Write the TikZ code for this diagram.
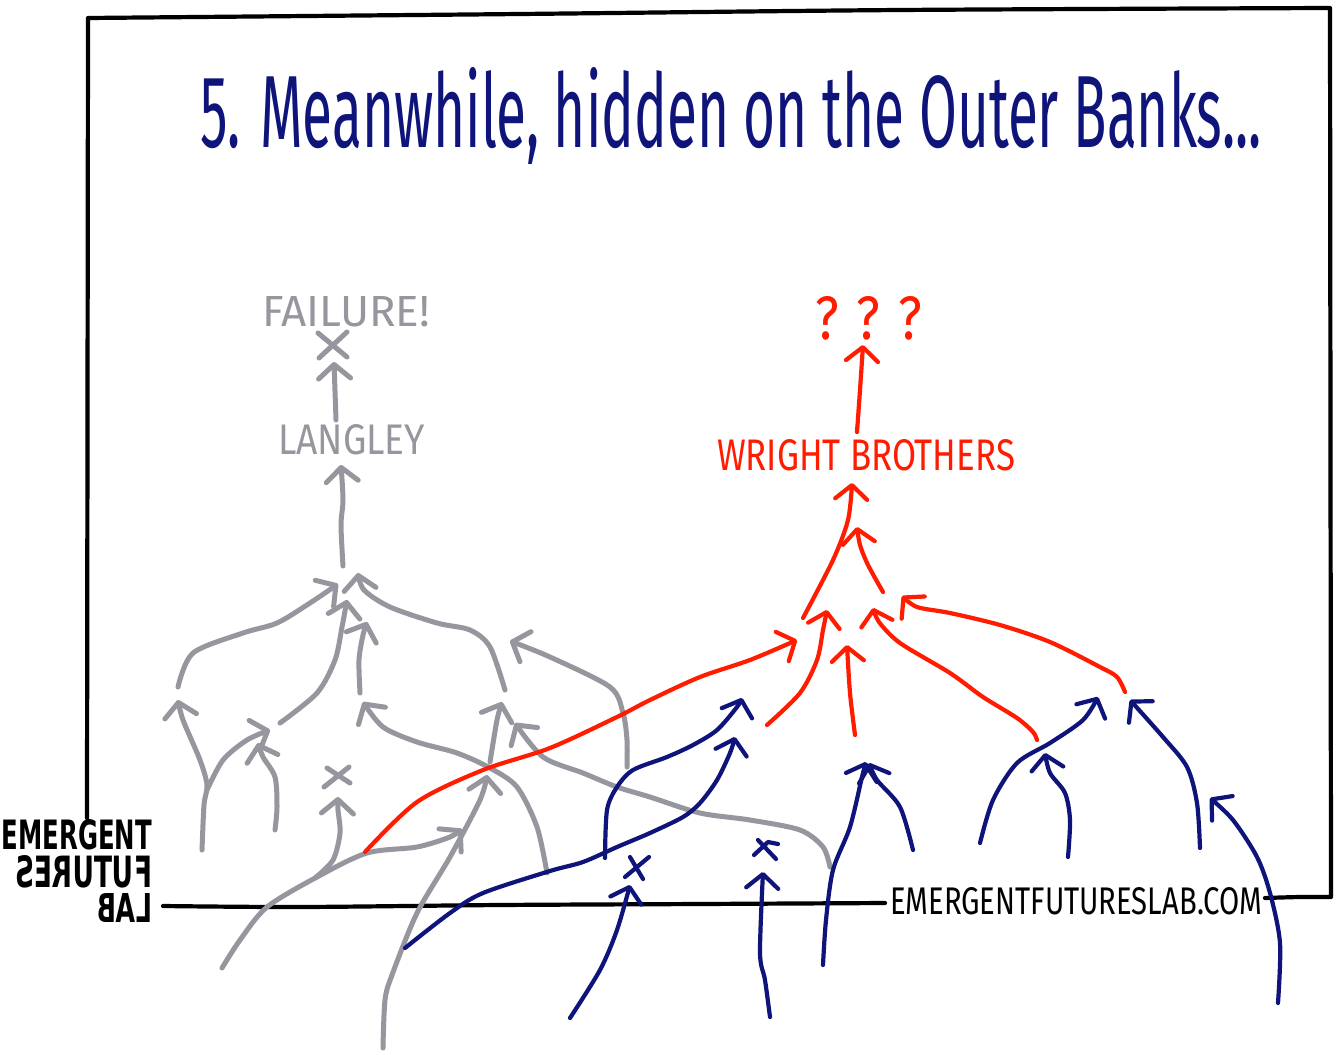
\documentclass[tikz,border=0pt]{standalone}
\usepackage{fontspec}
\usepackage{graphicx}
\usetikzlibrary{arrows.meta,calc}
\newfontfamily\handfont{Fira Sans}
\newfontfamily\logofont{DejaVu Sans}
\definecolor{gline}{RGB}{150,150,158}
\definecolor{bline}{RGB}{14,20,122}
\definecolor{rline}{RGB}{255,28,0}
\tikzset{
  tipv/.style={-{Straight Barb[length=14pt,width=32pt,round]}},
  gl/.style={draw=gline, line width=5pt, line cap=round, line join=round},
  rl/.style={draw=rline, line width=4.2pt, line cap=round, line join=round},
  bl/.style={draw=bline, line width=4.2pt, line cap=round, line join=round},
  ga/.style={gl, tipv},
  ra/.style={rl, tipv},
  ba/.style={bl, tipv},
  frame/.style={draw=black, line width=4.2pt, line cap=round, line join=round},
  txt/.style={inner sep=0pt, outer sep=0pt}
}
\begin{document}
\begin{tikzpicture}[x=1pt,y=-1pt]
\useasboundingbox[fill=white] (0,0) rectangle (1339,1055);

% ---------- frame ----------
\draw[frame] plot[smooth] coordinates {(1265,898) (1300,897) (1331,897)} -- (1330,8)
   -- plot[smooth] coordinates {(1330,8) (900,10) (520,14) (88,18)} -- (87,818);
\draw[frame] plot[smooth] coordinates {(163,906) (300,907) (500,905) (700,904) (885,903)};

% ---------- texts ----------
\node[txt, anchor=base west, text=bline] (title) at (200,147)
  {\resizebox{1062pt}{80pt}{\handfont 5. Meanwhile, hidden on the Outer Banks...}};
\node[txt, anchor=south west, text=gline] (failure) at (262,327)
  {\resizebox{168pt}{30pt}{\handfont FAILURE!}};
\node[txt, anchor=south west, text=gline] (langley) at (278,455)
  {\resizebox{147pt}{30pt}{\handfont LANGLEY}};
\node[txt, anchor=south west, text=rline] (wb) at (717,471)
  {\resizebox{298pt}{31pt}{\handfont WRIGHT BROTHERS}};
\node[txt, anchor=south west, text=rline] (qqq) at (815,340)
  {\resizebox{107pt}{43pt}{\handfont ? ? ?}};
\node[txt, anchor=south west, text=black] (url) at (890,915)
  {\resizebox{372pt}{27pt}{\handfont EMERGENTFUTURESLAB.COM}};
\node[txt, anchor=south east, text=black] (logoa) at (152,850)
  {\resizebox{150pt}{30pt}{\logofont\bfseries EMERGENT}};
\node[txt, anchor=south east, text=black] (logob) at (152,888)
  {\reflectbox{\resizebox{137pt}{32pt}{\logofont\bfseries FUTURES}}};
\node[txt, anchor=south east, text=black] (logoc) at (152,922)
  {\reflectbox{\resizebox{55pt}{29pt}{\logofont\bfseries LAB}}};

% ---------- grey tree (Langley) ----------
\coordinate (gx1) at (333,345);
\draw[gl] ($(gx1)+(-15,-12)$) -- ($(gx1)+(14,12)$) ($(gx1)+(-14,13)$) -- ($(gx1)+(14,-13)$);
\draw[ga] (336,420) -- (334,362);
\coordinate (gconv) at (343,566);
\draw[ga] plot[smooth] coordinates {(gconv) (341,525) (343,500) (341,465)};
\draw[ga] plot[smooth] coordinates {(178,687) (193,653) (243,633) (277,623) (310,603) (338,584)};
\draw[ga] plot[smooth] coordinates {(280,723) (317,693) (335,660) (342,627) (347,600)};
\draw[ga] plot[smooth] coordinates {(360,693) (359,660) (363,635) (367,622)};
\draw[ga] plot[smooth] coordinates {(505,690) (490,647) (470,630) (437,623) (390,607) (364,590) (358,573)};
\draw[ga] plot[smooth] coordinates {(202,850) (204,805) (207,785) (200,760) (183,720) (178,700)};
\draw[ga] plot[smooth] coordinates {(207,790) (223,760) (247,740) (270,730)};
\draw[ga] plot[smooth] coordinates {(275,830) (277,807) (275,777) (263,757) (258,743)};
\coordinate (gx2) at (337,777);
\draw[gl] ($(gx2)+(-13,10)$) -- ($(gx2)+(12,-10)$) ($(gx2)+(-10,-9)$) -- ($(gx2)+(13,6)$);
\draw[ga] plot[smooth] coordinates {(315,878) (333,860) (340,833) (338,810) (338,797)};
\draw[ga] plot[smooth] coordinates {(547,873) (537,827) (517,787) (490,768) (457,753) (417,742) (383,727) (363,702)};
\draw[ga] plot[smooth] coordinates {(490,762) (497,720) (502,702)};
\draw[ga] plot[smooth] coordinates {(383,1048) (385,1000) (392,975) (417,913) (450,857) (480,800) (487,775)};
\draw[ga] plot[smooth] coordinates {(830,867) (823,847) (800,830) (750,820) (700,813) (650,797) (617,787) (583,773) (543,757) (515,723)};
\draw[ga] plot[smooth] coordinates {(627,767) (627,740) (623,713) (610,687) (550,657) (510,641)};
\draw[ga] plot[smooth] coordinates {(222,968) (240,940) (267,907) (317,877) (367,853) (417,847) (450,837) (462,829)};

% ---------- red tree (Wright brothers) ----------
\draw[ra] plot[smooth] coordinates {(857,432) (860,390) (863,345)};
\draw[ra] plot[smooth] coordinates {(803,618) (833,560) (848,520) (852,483)};
\draw[ra] plot[smooth] coordinates {(883,592) (868,565) (860,545) (857,527)};
\draw[ra] plot[smooth] coordinates {(767,725) (800,693) (817,660) (823,630) (827,610)};
\draw[ra] plot[smooth] coordinates {(855,735) (850,693) (847,645)};
\draw[ra] plot[smooth] coordinates {(1037,740) (1033,732) (1017,718) (983,697) (950,673) (900,643) (879,622) (873,608)};
\draw[ra] plot[smooth] coordinates {(1125,692) (1117,677) (1100,667) (1050,642) (1000,625) (950,613) (917,607) (902,596)};
\draw[ra] plot[smooth] coordinates {(365,852) (417,802) (483,770) (550,748) (617,717) (650,700) (700,677) (750,660) (797,640)};

% ---------- blue roots ----------
\draw[ba] plot[smooth] coordinates {(605,858) (607,810) (617,787) (633,770) (667,757) (693,745) (717,730) (737,707) (742,698)};
\draw[ba] plot[smooth] coordinates {(405,948) (450,913) (483,893) (550,871) (583,862) (617,847) (650,833) (683,817) (700,803) (717,780) (730,753) (735,737)};
\coordinate (bx1) at (636,867);
\draw[bl] ($(bx1)+(-11,10)$) -- ($(bx1)+(13,-10)$) ($(bx1)+(-6,-10)$) -- ($(bx1)+(7,12)$);
\draw[ba] plot[smooth] coordinates {(570,1018) (600,970) (617,930) (630,885)};
\coordinate (bx2) at (766,850);
\draw[bl] ($(bx2)+(-12,5)$) -- ($(bx2)+(2,-8)$) -- ($(bx2)+(12,-6)$) ($(bx2)+(-8,-10)$) -- ($(bx2)+(10,9)$);
\draw[ba] plot[smooth] coordinates {(770,1017) (765,980) (760,953) (763,872)};
\draw[ba] plot[smooth] coordinates {(823,965) (826,920) (833,870) (850,827) (862,777) (866,762)};
\draw[ba] plot[smooth] coordinates {(913,850) (900,807) (877,780) (869,763)};
\draw[ba] plot[smooth] coordinates {(980,843) (993,800) (1017,763) (1050,743) (1083,720) (1098,697)};
\draw[ba] plot[smooth] coordinates {(1068,857) (1070,820) (1065,793) (1050,773) (1045,753)};
\draw[ba] plot[smooth] coordinates {(1200,848) (1197,803) (1187,767) (1163,737) (1130,700)};
\draw[ba] plot[smooth] coordinates {(1278,1003) (1280,943) (1270,893) (1257,857) (1233,820) (1210,798)};
\end{tikzpicture}
\end{document}
